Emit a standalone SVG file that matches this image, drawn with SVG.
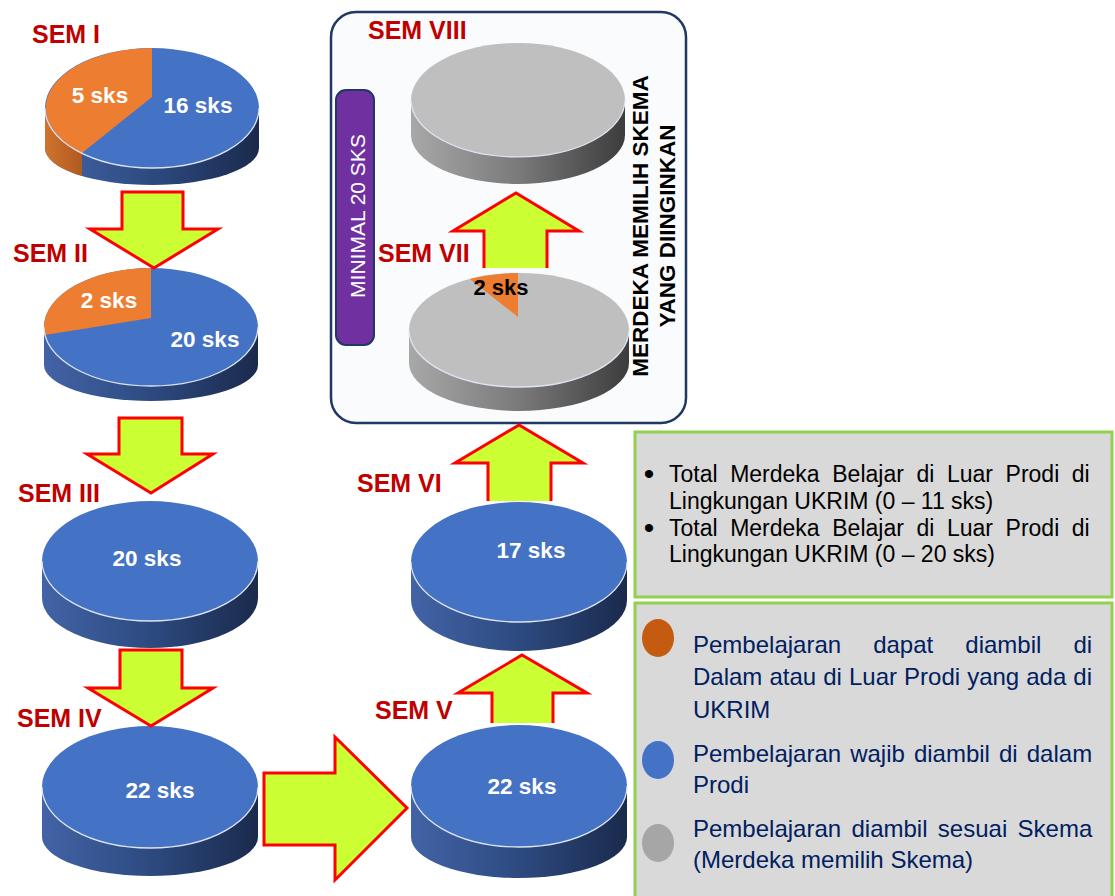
<svg xmlns="http://www.w3.org/2000/svg" width="1115" height="896" viewBox="0 0 1115 896">
<style>
.sem{font-family:"Liberation Sans",Arial,sans-serif;font-weight:bold;font-size:25px;fill:#c00000}
.lbl{font-family:"Liberation Sans",Arial,sans-serif;font-weight:bold;font-size:22.5px;fill:#ffffff;text-anchor:middle}
.blue{fill:#4472c4}
.orange{fill:#ed7d31}
.gray{fill:#bfbfbf}
.rim{fill:none;stroke:#dde4f2;stroke-width:1.3}
.arrow{fill:#ccff33;stroke:none}
.arrowline{fill:none;stroke:#ff0000;stroke-width:3;stroke-linejoin:miter}
.legend{fill:#d9d9d9;stroke:#92d050;stroke-width:3}
.t1{font-family:"Liberation Sans",Arial,sans-serif;font-size:23px;fill:#000000}
.bul{font-family:"Liberation Sans",Arial,sans-serif;font-size:30px;fill:#000000;text-anchor:middle}
.t2{font-family:"Liberation Sans",Arial,sans-serif;font-size:24px;fill:#002060}
.vert{font-family:"Liberation Sans",Arial,sans-serif;font-weight:bold;font-size:22.5px;fill:#000000;text-anchor:middle}
</style>
<defs>
<linearGradient id="gBlue" x1="0" y1="0" x2="1" y2="0">
<stop offset="0" stop-color="#4263a6"/><stop offset="0.5" stop-color="#2d4a80"/><stop offset="1" stop-color="#1a2a4c"/>
</linearGradient>
<linearGradient id="gGray" x1="0" y1="0" x2="1" y2="0">
<stop offset="0" stop-color="#a8a8a8"/><stop offset="0.5" stop-color="#7a7a7a"/><stop offset="1" stop-color="#3c3c3c"/>
</linearGradient>
<linearGradient id="gOrange" x1="0" y1="0" x2="1" y2="0">
<stop offset="0" stop-color="#d0732e"/><stop offset="1" stop-color="#b05a20"/>
</linearGradient>
</defs>
<rect width="1115" height="896" fill="#ffffff"/>

<g id="box-merdeka">
<rect x="331" y="12" width="355" height="411" rx="25" fill="#fafbfd" stroke="#1f3864" stroke-width="2.5"/>
<text class="vert" transform="rotate(-90 648 226)" x="648" y="226">MERDEKA MEMILIH SKEMA</text>
<text class="vert" transform="rotate(-90 675 226)" x="675" y="226">YANG DIINGINKAN</text>
</g>
<g id="minimal">
<rect x="336" y="90" width="38" height="255" rx="10" fill="#7030a0" stroke="#1f3864" stroke-width="2"/>
<text transform="rotate(-90 365 216)" x="365" y="216" font-family="Liberation Sans, Arial, sans-serif" font-size="21" fill="#ffffff" text-anchor="middle">MINIMAL 20 SKS</text>
</g>

<g id="sem1">
<text class="sem" x="32" y="43">SEM I</text>
<path d="M45,108 L45,148 A107,37 0 0 0 259,148 L259,108 Z" fill="url(#gBlue)"/>
<path d="M45,108 L45,148 A107,37 0 0 0 82,176 L82,153 A107,60 0 0 1 45,108 Z" fill="url(#gOrange)"/>
<ellipse class="blue" cx="152" cy="108" rx="107" ry="60"/>
<path class="orange" d="M152,97 L152,48 A107,60 0 0 0 82,153 Z"/>
<path class="rim" d="M45,108 A107,60 0 0 0 259,108"/>
<text class="lbl" x="100" y="103">5 sks</text>
<text class="lbl" x="198" y="113">16 sks</text>
</g>

<g id="sem2">
<text class="sem" x="13" y="262">SEM II</text>
<path d="M44,327 L44,365 A107,36 0 0 0 258,365 L258,327 Z" fill="url(#gBlue)"/>
<ellipse class="blue" cx="151" cy="327" rx="107" ry="59"/>
<path class="orange" d="M151,318 L151,268 A107,59 0 0 0 45,335 Z"/>
<path class="rim" d="M44,327 A107,59 0 0 0 258,327"/>
<text class="lbl" x="109" y="308">2 sks</text>
<text class="lbl" x="205" y="347">20 sks</text>
</g>

<g id="sem3">
<text class="sem" x="18" y="502">SEM III</text>
<path d="M42,561 L42,598 A108,50 0 0 0 258,598 L258,561 Z" fill="url(#gBlue)"/>
<ellipse class="blue" cx="150" cy="561" rx="108" ry="60"/>
<path class="rim" d="M42,561 A108,60 0 0 0 258,561"/>
<text class="lbl" x="147" y="566">20 sks</text>
</g>

<g id="sem4">
<text class="sem" x="17" y="727">SEM IV</text>
<path d="M42,787 L42,837 A108,39 0 0 0 258,837 L258,787 Z" fill="url(#gBlue)"/>
<ellipse class="blue" cx="150" cy="787" rx="108" ry="61"/>
<path class="rim" d="M42,787 A108,61 0 0 0 258,787"/>
<text class="lbl" x="160" y="798">22 sks</text>
</g>

<g id="sem5">
<text class="sem" x="375" y="719">SEM V</text>
<path d="M411,786 L411,837 A108,41 0 0 0 627,837 L627,786 Z" fill="url(#gBlue)"/>
<ellipse class="blue" cx="519" cy="786" rx="108" ry="61"/>
<path class="rim" d="M411,786 A108,61 0 0 0 627,786"/>
<text class="lbl" x="522" y="794">22 sks</text>
</g>

<g id="sem6">
<text class="sem" x="357" y="492">SEM VI</text>
<path d="M411,562 L411,600 A108,51 0 0 0 627,600 L627,562 Z" fill="url(#gBlue)"/>
<ellipse class="blue" cx="519" cy="562" rx="108" ry="60"/>
<path class="rim" d="M411,562 A108,60 0 0 0 627,562"/>
<text class="lbl" x="531" y="558">17 sks</text>
</g>

<g id="sem7">
<text class="sem" x="378" y="262">SEM VII</text>
<path d="M409,330 L409,363 A110,48 0 0 0 629,363 L629,330 Z" fill="url(#gGray)"/>
<ellipse class="gray" cx="519" cy="330" rx="110" ry="57"/>
<path class="orange" d="M518,317 L518,273 A110,57 0 0 0 470,279 Z"/>
<path class="rim" d="M409,330 A110,57 0 0 0 629,330"/>
<text x="501" y="295" font-family="Liberation Sans, Arial, sans-serif" font-weight="bold" font-size="22" fill="#000000" text-anchor="middle">2 sks</text>
</g>

<g id="sem8">
<text class="sem" x="368" y="39">SEM VIII</text>
<path d="M411,100 L411,135 A107,49 0 0 0 625,135 L625,100 Z" fill="url(#gGray)"/>
<ellipse class="gray" cx="518" cy="100" rx="107" ry="57"/>
<path class="rim" d="M411,100 A107,57 0 0 0 625,100"/>
</g>

<g id="connectors">
<polygon class="arrow" points="122,192 183,192 183,229 218,229 154,268 90,229 122,229"/>
<polygon class="arrowline" points="122,192 183,192 183,229 218,229 154,268 90,229 122,229"/>
<polygon class="arrow" points="119,418 182,418 182,454 213,454 151,493 87,454 119,454"/>
<polygon class="arrowline" points="119,418 182,418 182,454 213,454 151,493 87,454 119,454"/>
<polygon class="arrow" points="120,650 182,650 182,688 213,688 151,726 88,688 120,688"/>
<polygon class="arrowline" points="120,650 182,650 182,688 213,688 151,726 88,688 120,688"/>
<polygon class="arrow" points="264,773 335,773 335,737 407,808 335,880 335,845 264,845"/>
<polygon class="arrowline" points="264,773 335,773 335,737 407,808 335,880 335,845 264,845"/>
<polygon class="arrow" points="492,723 492,693 458,693 522,655 587,693 553,693 553,723"/>
<polyline class="arrowline" points="492,723 492,693 458,693 522,655 587,693 553,693 553,723"/>
<polygon class="arrow" points="488,501 488,463 455,463 519,425 583,463 551,463 551,501"/>
<polyline class="arrowline" points="488,501 488,463 455,463 519,425 583,463 551,463 551,501"/>
<polygon class="arrow" points="484,268 484,231 453,231 516,193 579,231 547,231 547,268"/>
<polyline class="arrowline" points="484,268 484,231 453,231 516,193 579,231 547,231 547,268"/>
</g>

<g id="legend-total">
<rect class="legend" x="635" y="432" width="477" height="165"/>
<text class="bul" x="649" y="484">•</text>
<text class="t1" x="669" y="482" word-spacing="6.2">Total Merdeka Belajar di Luar Prodi di</text>
<text class="t1" x="669" y="509">Lingkungan UKRIM (0 – 11 sks)</text>
<text class="bul" x="649" y="538">•</text>
<text class="t1" x="669" y="536" word-spacing="6.2">Total Merdeka Belajar di Luar Prodi di</text>
<text class="t1" x="669" y="562">Lingkungan UKRIM (0 – 20 sks)</text>
</g>

<g id="legend-keys">
<rect class="legend" x="635" y="603" width="477" height="300"/>
<ellipse cx="658" cy="638" rx="16" ry="19" fill="#c55a11"/>
<ellipse cx="658" cy="760" rx="16" ry="19" fill="#4472c4"/>
<ellipse cx="658" cy="843" rx="16" ry="19" fill="#a6a6a6"/>
<text class="t2" x="693" y="653" word-spacing="25.4">Pembelajaran dapat diambil di</text>
<text class="t2" x="693" y="685" word-spacing="0.4">Dalam atau di Luar Prodi yang ada di</text>
<text class="t2" x="693" y="718">UKRIM</text>
<text class="t2" x="693" y="762" word-spacing="2.4">Pembelajaran wajib diambil di dalam</text>
<text class="t2" x="693" y="793">Prodi</text>
<text class="t2" x="693" y="837" word-spacing="3.7">Pembelajaran diambil sesuai Skema</text>
<text class="t2" x="693" y="868">(Merdeka memilih Skema)</text>
</g>
</svg>
